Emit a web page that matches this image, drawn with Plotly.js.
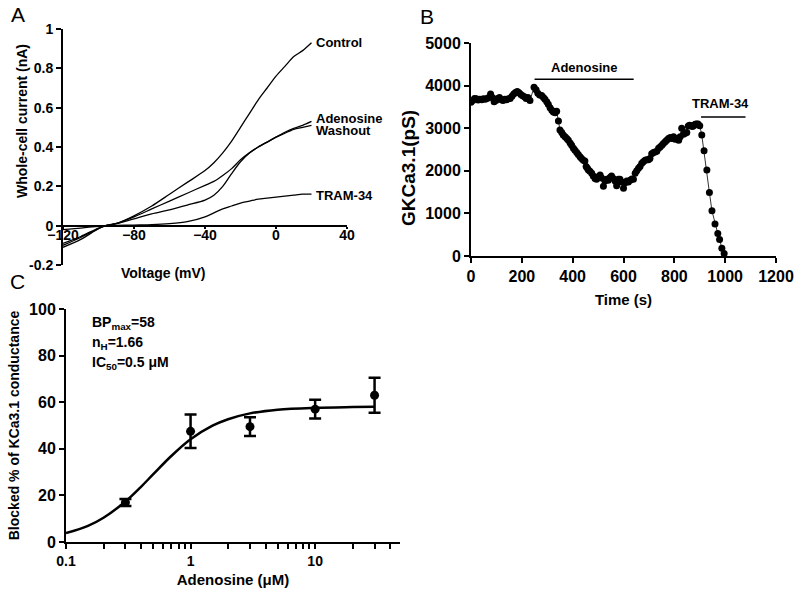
<!DOCTYPE html>
<html>
<head>
<meta charset="utf-8">
<script src="https://cdn.plot.ly/plotly-3.0.1.min.js"></script>
<style>
  body { margin: 0; background: #fff; }
  #fig { width: 800px; height: 598px; }
</style>
</head>
<body>
<div id="fig"></div>
<script>
// ---- Panel A: I-V ramps ----
const voltage = [-120, -110, -100, -96, -90, -80, -70, -60, -50, -40, -35, -30, -25, -20, -15, -10, -5, 0, 5, 10, 15, 20];
const iControl = [-0.10, -0.06, -0.015, 0, 0.01, 0.05, 0.10, 0.16, 0.22, 0.28, 0.32, 0.37, 0.43, 0.50, 0.57, 0.64, 0.70, 0.76, 0.81, 0.86, 0.89, 0.93];
const iWashout = [-0.09, -0.055, -0.012, 0, 0.012, 0.045, 0.085, 0.125, 0.165, 0.205, 0.225, 0.255, 0.29, 0.335, 0.37, 0.40, 0.425, 0.45, 0.47, 0.49, 0.50, 0.51];
const iAdenosine = [-0.11, -0.07, -0.015, 0, 0.01, 0.035, 0.06, 0.08, 0.105, 0.13, 0.155, 0.20, 0.265, 0.325, 0.37, 0.40, 0.425, 0.45, 0.475, 0.495, 0.51, 0.53];
const iTram = [-0.02, -0.012, -0.003, 0, 0.001, 0.003, 0.005, 0.01, 0.02, 0.045, 0.065, 0.085, 0.10, 0.115, 0.125, 0.135, 0.14, 0.145, 0.15, 0.155, 0.16, 0.16];
const curveLabels = ['Control', 'Adenosine', 'Washout', 'TRAM-34'];
const curveLabelY = [0.93, 0.545, 0.485, 0.155];

// ---- Panel B: conductance time course ----
const timeS = [
  0, 7, 14, 21, 28, 35, 42, 49, 56, 63,
  70, 77, 84, 91, 98, 105, 112, 119, 126, 133,
  140, 147, 154, 161, 168, 175, 182, 189, 196, 203,
  210, 217, 224, 232, 248, 256, 263, 270, 278, 285,
  291, 298, 304, 311, 318, 324, 331, 337, 344, 350,
  357, 363, 370, 377, 383, 390, 396, 403, 409, 416,
  422, 429, 435, 442, 448, 453, 458, 462, 468, 475,
  481, 488, 494, 501, 508, 514, 521, 527, 534, 540,
  547, 553, 560, 567, 573, 580, 586, 593, 600, 606,
  613, 619, 626, 633, 639, 646, 652, 659, 665, 672,
  678, 685, 691, 698, 704, 711, 718, 724, 731, 738,
  744, 751, 757, 764, 770, 777, 784, 790, 797, 803,
  810, 817, 823, 829, 836, 843, 849, 855, 860, 866,
  871, 876, 882, 887, 893, 900, 908, 917, 928, 938,
  948, 960, 971, 978, 987, 996
];
const gKCa = [
  3610, 3650, 3700, 3690, 3660, 3680, 3670, 3690, 3680, 3700,
  3720, 3800, 3720, 3620, 3650, 3700, 3720, 3670, 3650, 3680,
  3670, 3690, 3700, 3750, 3800, 3840, 3860, 3830, 3790, 3760,
  3740, 3700, 3720, 3650, 3960, 3900, 3820, 3780, 3770, 3720,
  3680, 3620, 3560, 3480, 3420, 3380, 3360, 3400, 3170, 2960,
  2900, 2840, 2800, 2760, 2720, 2650, 2600, 2530, 2480, 2430,
  2380, 2330, 2290, 2250, 2230, 2100, 2060, 2020, 1990, 1940,
  1880, 1820, 1800, 1860, 1900, 1830, 1640, 1760, 1800, 1780,
  1840, 1880, 1820, 1760, 1650, 1800, 1800, 1740, 1590, 1720,
  1760, 1740, 1780, 1810, 1800, 1940, 2000, 2060, 2100, 2180,
  2210, 2250, 2260, 2260, 2290, 2400, 2430, 2440, 2460, 2530,
  2560, 2600, 2640, 2680, 2720, 2760, 2780, 2760, 2800, 2740,
  2760, 2720, 2800, 3000, 2860, 2880, 2900, 3050, 3070, 3060,
  3040, 3060, 3090, 3100, 3100, 3060, 2840, 2470, 2020, 1490,
  1060, 750, 530, 390, 180, 60
];
const adenoBar = [250, 640, 4150];   // start, end, level
const tramBar = [905, 1080, 3260];

// ---- Panel C: concentration-response ----
const conc = [0.3, 1, 3, 10, 30];
const blocked = [17, 47.5, 49.5, 57, 63];
const blockedErr = [1.5, 7.2, 4, 4, 7.5];
const fitConc = [0.1, 0.15, 0.2, 0.3, 0.4, 0.5, 0.7, 1, 1.5, 2, 3, 5, 10, 20, 30];
const fitBlocked = [3.8, 6.9, 10.4, 17.4, 23.7, 29, 36.9, 44.1, 49.9, 52.7, 55.2, 56.8, 57.6, 57.9, 58];
const cTickVals = [0.1, 0.2, 0.3, 0.4, 0.5, 0.6, 0.7, 0.8, 0.9, 1, 2, 3, 4, 5, 6, 7, 8, 9, 10, 20, 30, 40];
const cTickText = cTickVals.map(v => (v === 0.1 || v === 1 || v === 10) ? String(v) : '');

const FONT = 'Liberation Sans, Arial, sans-serif';
const bold = (size) => ({family: FONT, size: size, color: '#000', weight: 'bold'});

const line = {color: '#000', width: 1.3, shape: 'spline', smoothing: 0.8};
const traces = [
  {x: voltage, y: iControl, mode: 'lines', line: line, xaxis: 'x', yaxis: 'y'},
  {x: voltage, y: iWashout, mode: 'lines', line: line, xaxis: 'x', yaxis: 'y'},
  {x: voltage, y: iAdenosine, mode: 'lines', line: line, xaxis: 'x', yaxis: 'y'},
  {x: voltage, y: iTram, mode: 'lines', line: line, xaxis: 'x', yaxis: 'y'},
  {x: timeS, y: gKCa, mode: 'lines+markers', line: {color: '#000', width: 0.8},
   marker: {color: '#000', size: 7}, xaxis: 'x2', yaxis: 'y2'},
  {x: fitConc, y: fitBlocked, mode: 'lines', line: {color: '#000', width: 2.5, shape: 'spline'},
   xaxis: 'x3', yaxis: 'y3'},
  {x: conc, y: blocked, mode: 'markers', marker: {color: '#000', size: 9},
   error_y: {type: 'data', array: blockedErr, color: '#000', thickness: 2.5, width: 6},
   xaxis: 'x3', yaxis: 'y3'}
];

const domA = {x: [63/800, 347/800], y: [1 - 265/598, 1 - 29/598]};
const domB = {x: [471/800, 776/800], y: [1 - 256/598, 1 - 43/598]};
const domC = {x: [66/800, 400/800], y: [1 - 542/598, 1 - 309/598]};
const zeroPos = domA.y[0] + (domA.y[1] - domA.y[0]) * (0.2 / 1.2);

const axisBase = {
  showline: true, linecolor: '#000', linewidth: 2, showgrid: false, zeroline: false,
  ticks: 'outside', ticklen: 5, tickwidth: 2, tickcolor: '#000', fixedrange: true
};

// paper-positioned text, px coordinates converted to fractions
const paperText = (text, px, py, font, extra) => Object.assign({
  text: text, x: px / 800, y: 1 - py / 598, xref: 'paper', yref: 'paper',
  xanchor: 'center', yanchor: 'middle', showarrow: false, font: font
}, extra || {});

const letterFont = {family: FONT, size: 21, color: '#000', weight: 'normal'};
const annotations = [
  paperText('A', 18, 15, letterFont),
  paperText('B', 427, 17, letterFont),
  paperText('C', 17, 281, letterFont),
  paperText('Voltage (mV)', 163, 273, bold(14)),
  paperText('Whole-cell current (nA)', 22, 121, bold(14), {textangle: -90}),
  paperText('GKCa3.1(pS)', 408, 168, bold(19), {textangle: -90})
];

curveLabels.forEach((t, i) => annotations.push({
  text: t, x: 20, y: curveLabelY[i], xref: 'x', yref: 'y', xanchor: 'left', yanchor: 'middle',
  xshift: 2, showarrow: false, font: bold(13)
}));

annotations.push({text: 'Adenosine', x: (adenoBar[0] + adenoBar[1]) / 2, y: adenoBar[2],
  xref: 'x2', yref: 'y2', yanchor: 'bottom', yshift: 2, showarrow: false, font: bold(13)});
annotations.push({text: 'TRAM-34', x: (tramBar[0] + tramBar[1]) / 2 - 10, y: tramBar[2],
  xref: 'x2', yref: 'y2', yanchor: 'bottom', yshift: 4, showarrow: false, font: bold(13)});

['BP<sub>max</sub>=58', 'n<sub>H</sub>=1.66', 'IC<sub>50</sub>=0.5 μM'].forEach((t, i) =>
  annotations.push(paperText(t, 90, 323 + i * 20, bold(14), {xanchor: 'left'})));

const shapes = [adenoBar, tramBar].map(b => ({
  type: 'line', xref: 'x2', yref: 'y2', x0: b[0], x1: b[1], y0: b[2], y1: b[2],
  line: {color: '#000', width: 1.5}
}));

const layout = {
  width: 800, height: 598,
  margin: {l: 0, r: 0, t: 0, b: 0},
  paper_bgcolor: '#fff', plot_bgcolor: 'rgba(0,0,0,0)',
  showlegend: false,
  font: bold(14),
  xaxis: Object.assign({}, axisBase, {domain: domA.x, range: [-120, 40], anchor: 'free',
    position: zeroPos, tickvals: [-120, -80, -40, 0, 40], ticklen: 2, ticklabelstandoff: -5,
    tickfont: bold(14)}),
  yaxis: Object.assign({}, axisBase, {domain: domA.y, range: [-0.2, 1], anchor: 'x',
    tickvals: [-0.2, 0, 0.2, 0.4, 0.6, 0.8, 1], ticktext: ['-0.2', '0', '0.2', '0.4', '0.6', '0.8', '1'],
    tickfont: bold(14)}),
  xaxis2: Object.assign({}, axisBase, {domain: domB.x, range: [0, 1200], anchor: 'y2',
    dtick: 200, tickfont: bold(16), title: {text: 'Time (s)', font: bold(15), standoff: 10}}),
  yaxis2: Object.assign({}, axisBase, {domain: domB.y, range: [0, 5000], anchor: 'x2',
    dtick: 1000, tickfont: bold(16)}),
  xaxis3: Object.assign({}, axisBase, {domain: domC.x, type: 'log', range: [-1, Math.log10(48)],
    anchor: 'y3', tickvals: cTickVals, ticktext: cTickText, tickfont: bold(14),
    title: {text: 'Adenosine (μM)', font: bold(15), standoff: 7}}),
  yaxis3: Object.assign({}, axisBase, {domain: domC.y, range: [0, 100], anchor: 'x3',
    dtick: 20, tickfont: bold(16), title: {text: 'Blocked % of KCa3.1 conductance', font: bold(14), standoff: 6}}),
  annotations: annotations,
  shapes: shapes
};

Plotly.newPlot('fig', traces, layout, {staticPlot: true});
</script>
</body>
</html>
